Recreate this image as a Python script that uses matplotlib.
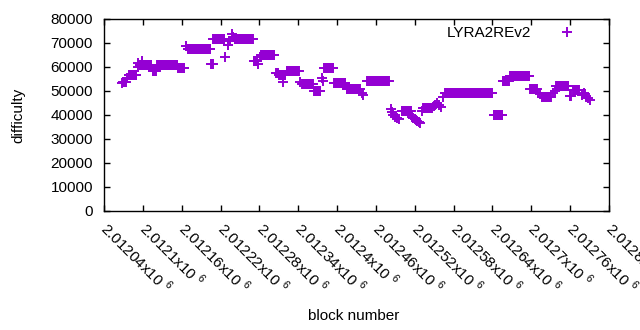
import numpy as np
import matplotlib
matplotlib.use('Agg')
import matplotlib.pyplot as plt

# runs of blocks that share one difficulty: first block, last block, difficulty
run_start = [2012068, 2012070, 2012075, 2012078, 2012092, 2012093, 2012095, 2012098,
             2012115, 2012122, 2012155, 2012166, 2012169, 2012206, 2012209, 2012227,
             2012231, 2012234, 2012237, 2012239, 2012242, 2012271, 2012278, 2012281,
             2012283, 2012306, 2012310, 2012316, 2012322, 2012343, 2012346, 2012365,
             2012376, 2012378, 2012380, 2012396, 2012415, 2012438, 2012440, 2012446,
             2012483, 2012485, 2012487, 2012490, 2012493, 2012496, 2012500,
             2012516, 2012518, 2012520, 2012522, 2012524, 2012526, 2012528,
             2012531, 2012533, 2012549, 2012552, 2012555, 2012558, 2012561,
             2012563, 2012567, 2012569, 2012642, 2012656, 2012667, 2012698,
             2012711, 2012714, 2012716, 2012734, 2012736, 2012738, 2012759,
             2012765, 2012778, 2012781, 2012783, 2012785, 2012788, 2012790]
run_end = [2012068, 2012074, 2012076, 2012090, 2012092, 2012093, 2012113, 2012098,
           2012120, 2012153, 2012164, 2012167, 2012204, 2012208, 2012226, 2012227,
           2012232, 2012234, 2012237, 2012240, 2012270, 2012277, 2012278, 2012281,
           2012303, 2012308, 2012320, 2012316, 2012341, 2012343, 2012363, 2012374,
           2012376, 2012378, 2012394, 2012413, 2012435, 2012438, 2012440, 2012480,
           2012483, 2012485, 2012487, 2012490, 2012493, 2012496, 2012514,
           2012516, 2012518, 2012520, 2012522, 2012524, 2012526, 2012528,
           2012531, 2012546, 2012549, 2012552, 2012555, 2012558, 2012561,
           2012563, 2012567, 2012640, 2012655, 2012665, 2012697, 2012709,
           2012711, 2012714, 2012730, 2012734, 2012736, 2012757, 2012761,
           2012773, 2012778, 2012781, 2012783, 2012785, 2012788, 2012790]
run_diff = [53300, 53800, 55500, 56700, 59900, 61500, 60800, 62300,
            58400, 60800, 59500, 68700, 67500, 61200, 71500, 64000,
            69200, 71000, 73600, 72300, 71600, 62500, 61100, 64300,
            64800, 57400, 56500, 53700, 58500, 53900, 52900, 49900,
            55600, 54000, 59500, 53500, 50700, 49000, 48300, 54200,
            42400, 41200, 40000, 39300, 38700, 38300, 41700,
            39300, 38800, 38300, 37900, 37500, 37000, 36600,
            41700, 42900, 43900, 44300, 44800, 44300, 43400,
            47600, 49300, 49000, 40000, 54000, 56200, 50800,
            49000, 48600, 47400, 49000, 50200, 52100, 47900,
            50400, 48300, 49000, 48800, 47400, 47000, 46200]

y_ticks = [0, 10000, 20000, 30000, 40000, 50000, 60000, 70000, 80000]
x_ticks = [2012040 + 60 * i for i in range(14)]

blocks = []
diffs = []
for s, e, d in zip(run_start, run_end, run_diff):
    for b in range(s, e + 1):
        blocks.append(b)
        diffs.append(d)

plt.rcParams['font.family'] = ['Liberation Sans', 'DejaVu Sans']
plt.rcParams['mathtext.fontset'] = 'custom'
plt.rcParams['mathtext.rm'] = 'Liberation Sans'

fig = plt.figure(figsize=(6.4, 3.3), dpi=100)
ax = fig.add_axes([104 / 640, 1 - 211 / 330, 505 / 640, 192 / 330])

ax.plot(blocks, diffs, linestyle='none', marker='+', color='#9400D3',
        markersize=7, markeredgewidth=1.4, label='LYRA2REv2')

ax.set_xlim(2012040, 2012820)
ax.set_ylim(0, 80000)
ax.set_yticks(y_ticks)
ax.set_yticklabels([str(v) for v in y_ticks], fontsize=11)
ax.set_xticks(x_ticks)
ax.set_xticklabels(['%gx10 $^{6}$' % (v / 1e6) for v in x_ticks], fontsize=11,
                   rotation=-45, ha='left', va='center', rotation_mode='anchor')
ax.tick_params(direction='in', length=4, width=1, top=True, right=True, pad=8)
ax.tick_params(axis='x', pad=10)
for sp in ax.spines.values():
    sp.set_linewidth(1)

ax.set_xlabel('block number', fontsize=11)
ax.xaxis.set_label_coords(0.495, -0.51)
ax.set_ylabel('difficulty', fontsize=11)
ax.yaxis.set_label_coords(-0.155, 0.5)

ax.legend(loc='upper right', frameon=False, markerfirst=False, fontsize=11,
          handlelength=1.5, handletextpad=1.6, borderaxespad=0.3,
          bbox_to_anchor=(0.96, 1.02))

fig.savefig('out.png', dpi=100)
